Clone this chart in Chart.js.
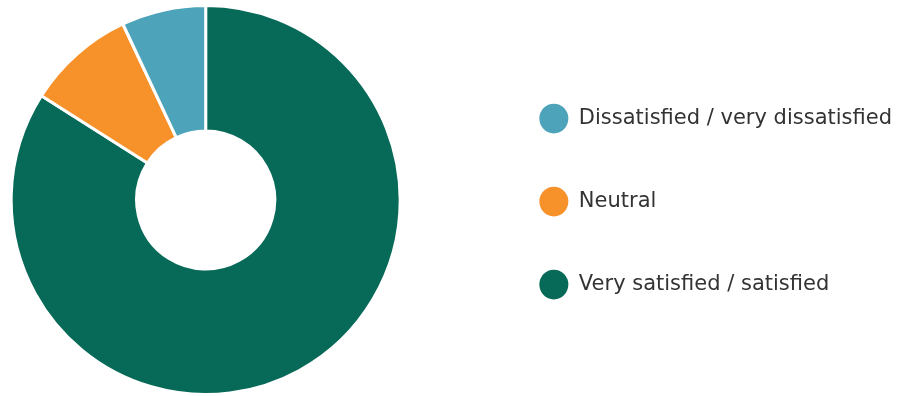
<!DOCTYPE html>
<html>
<head>
<meta charset="utf-8">
<script src="https://cdn.jsdelivr.net/npm/chart.js@4/dist/chart.umd.min.js"></script>
<style>
  html, body { margin: 0; padding: 0; background: #ffffff; overflow: hidden; }
  #frame { position: relative; width: 902px; height: 396px; overflow: hidden; }
  /* the canvas runs a little past the left edge so the ring sits left of centre */
  #wrap { position: absolute; left: -66px; top: 0; width: 968px; height: 396px; }
</style>
</head>
<body>
<div id="frame"><div id="wrap"><canvas id="chart"></canvas></div></div>
<script>
// Satisfaction breakdown (percent of respondents)
const categories = ['Very satisfied / satisfied', 'Neutral', 'Dissatisfied / very dissatisfied'];
const shares = [84, 9, 7];
const colours = ['#076957', '#F7922B', '#4DA3B9'];

const baseLabels = Chart.overrides.doughnut.plugins.legend.labels.generateLabels;

new Chart(document.getElementById('chart'), {
  type: 'doughnut',
  data: {
    labels: categories,
    datasets: [{
      data: shares,
      backgroundColor: colours,
      borderColor: '#ffffff',
      borderWidth: 3,
      hoverOffset: 0
    }]
  },
  options: {
    responsive: true,
    maintainAspectRatio: false,
    animation: false,
    cutout: '35.5%',
    layout: { padding: { left: 0, right: 0, top: 4, bottom: 0 } },
    plugins: {
      tooltip: { enabled: false },
      legend: {
        position: 'right',
        reverse: true,
        title: { display: true, text: '', font: { size: 1 }, padding: { top: 1, bottom: 1 } },
        labels: {
          usePointStyle: true,
          pointStyle: 'circle',
          pointStyleWidth: 29,
          padding: 62,
          color: '#333333',
          font: { family: 'DejaVu Sans', size: 21 },
          // solid swatches without the white slice outline
          generateLabels: (chart) => baseLabels(chart).map(item => ({ ...item, lineWidth: 0 }))
        }
      }
    }
  }
});
</script>
</body>
</html>
